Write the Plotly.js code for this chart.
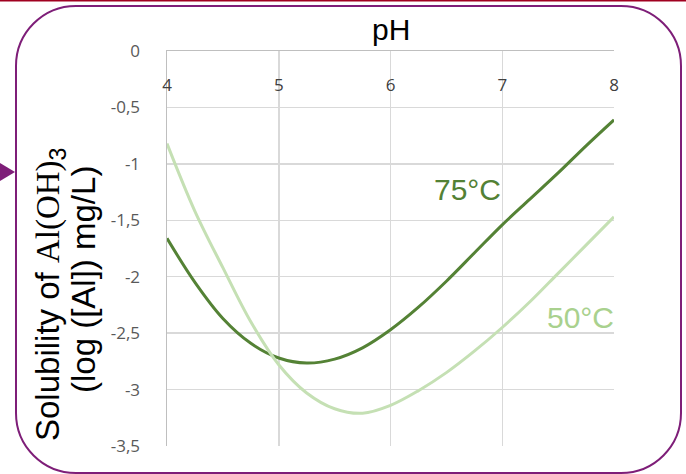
<!DOCTYPE html>
<html>
<head>
<meta charset="utf-8">
<script src="https://cdn.plot.ly/plotly-3.0.1.min.js"></script>
<style>
  html, body { margin: 0; padding: 0; background: #ffffff; }
  #chart { width: 686px; height: 474px; }
</style>
</head>
<body>
<div id="chart"></div>
<script>
// ---- data ----
const pH = [4.0, 4.25, 4.5, 4.75, 5.0, 5.25, 5.5, 5.75, 6.0, 6.25, 6.5, 6.75, 7.0, 7.25, 7.5, 7.75, 8.0];
const sol75 = [-1.66, -2.05, -2.37, -2.59, -2.72, -2.765, -2.73, -2.63, -2.47, -2.27, -2.04, -1.79, -1.54, -1.31, -1.08, -0.84, -0.61];
const sol50 = [-0.82, -1.42, -1.92, -2.40, -2.78, -3.03, -3.17, -3.21, -3.14, -3.01, -2.85, -2.66, -2.45, -2.22, -1.97, -1.72, -1.47];
const seriesNames = ['75°C', '50°C'];
const xTicks = [4, 5, 6, 7, 8];
const xTickLabels = ['4', '5', '6', '7', '8'];
const yTicks = [0, -0.5, -1, -1.5, -2, -2.5, -3, -3.5];
const yTickLabels = ['0', '-0,5', '-1', '-1,5', '-2', '-2,5', '-3', '-3,5'];
const xTitle = 'pH';
const yTitleLine1 = 'Solubility of <span style="font-family:\'Liberation Serif\', serif">Al(OH)</span><sub>3</sub>';
const yTitleLine2 = '(log ([Al]) mg/L)';

// ---- layout helpers (pixel -> paper) ----
const W = 686, H = 474;
const M = { l: 167, r: 72, t: 51, b: 28 };
const PW = W - M.l - M.r, PH = H - M.t - M.b;
const px = x => (x - M.l) / PW;
const py = y => (H - M.b - y) / PH;
function P(x, y) { return px(x).toFixed(5) + ',' + py(y).toFixed(5); }

function roundRect(x0, y0, x1, y1, r) {
  const k = 0.5523 * r;
  return 'M' + P(x0 + r, y0) +
    ' L' + P(x1 - r, y0) +
    ' C' + P(x1 - r + k, y0) + ' ' + P(x1, y0 + r - k) + ' ' + P(x1, y0 + r) +
    ' L' + P(x1, y1 - r) +
    ' C' + P(x1, y1 - r + k) + ' ' + P(x1 - r + k, y1) + ' ' + P(x1 - r, y1) +
    ' L' + P(x0 + r, y1) +
    ' C' + P(x0 + r - k, y1) + ' ' + P(x0, y1 - r + k) + ' ' + P(x0, y1 - r) +
    ' L' + P(x0, y0 + r) +
    ' C' + P(x0, y0 + r - k) + ' ' + P(x0 + r - k, y0) + ' ' + P(x0 + r, y0) + ' Z';
}

const traces = [
  { x: pH, y: sol75, name: seriesNames[0], type: 'scatter', mode: 'lines',
    line: { color: '#548235', width: 3, shape: 'spline', smoothing: 1 } },
  { x: pH, y: sol50, name: seriesNames[1], type: 'scatter', mode: 'lines',
    line: { color: '#c5e0b4', width: 3, shape: 'spline', smoothing: 1 } }
];

const layout = {
  width: W, height: H,
  margin: M,
  paper_bgcolor: '#ffffff',
  plot_bgcolor: '#ffffff',
  showlegend: false,
  font: { family: 'Liberation Sans, Arial, sans-serif', color: '#000000' },
  xaxis: {
    range: [4, 8], side: 'top',
    tickvals: xTicks, ticktext: xTickLabels,
    ticks: 'inside', ticklen: 6, tickcolor: 'rgba(0,0,0,0)',
    ticklabelposition: 'inside', ticklabelstandoff: 23,
    ticklabeloverflow: 'allow',
    tickfont: { family: 'Open Sans, sans-serif', size: 17, color: '#404040' },
    showgrid: true, gridcolor: '#d9d9d9', gridwidth: 1.5,
    showline: true, linecolor: '#bfbfbf', linewidth: 1.5,
    zeroline: false, fixedrange: true
  },
  yaxis: {
    range: [-3.5, 0],
    tickvals: yTicks, ticktext: yTickLabels,
    ticks: '', ticklabelstandoff: 22,
    ticklabeloverflow: 'allow',
    tickfont: { family: 'Open Sans, sans-serif', size: 17, color: '#595959' },
    showgrid: true, gridcolor: '#d9d9d9', gridwidth: 1.5,
    showline: true, linecolor: '#bfbfbf', linewidth: 1.5,
    zeroline: false, fixedrange: true
  },
  shapes: [
    { type: 'path', xref: 'paper', yref: 'paper', layer: 'above',
      path: roundRect(16, 6, 681, 473, 60),
      line: { color: '#7e1e78', width: 2 }, fillcolor: 'rgba(0,0,0,0)' },
    { type: 'path', xref: 'paper', yref: 'paper',
      path: 'M' + P(0, 163) + ' L' + P(15, 172) + ' L' + P(0, 181) + ' Z',
      line: { color: '#7e1e78', width: 0 }, fillcolor: '#7e1e78' },
    { type: 'line', xref: 'paper', yref: 'paper',
      x0: px(0), x1: px(686), y0: py(0.5), y1: py(0.5),
      line: { color: '#a00020', width: 2 } }
  ],
  annotations: [
    { text: xTitle, xref: 'paper', yref: 'paper', x: px(391), y: py(30),
      xanchor: 'center', yanchor: 'middle', showarrow: false,
      font: { family: 'Liberation Sans, Arial, sans-serif', size: 30, color: '#000000' } },
    { text: yTitleLine1, xref: 'paper', yref: 'paper', x: px(50), y: py(295),
      xanchor: 'center', yanchor: 'middle', textangle: -90, showarrow: false,
      font: { family: 'Liberation Sans, Arial, sans-serif', size: 33, color: '#000000' } },
    { text: yTitleLine2, xref: 'paper', yref: 'paper', x: px(83), y: py(280),
      xanchor: 'center', yanchor: 'middle', textangle: -90, showarrow: false,
      font: { family: 'Liberation Sans, Arial, sans-serif', size: 33, color: '#000000' } },
    { text: seriesNames[0], xref: 'paper', yref: 'paper', x: px(467), y: py(189),
      xanchor: 'center', yanchor: 'middle', showarrow: false,
      font: { family: 'Liberation Sans, Arial, sans-serif', size: 30, color: '#538135' } },
    { text: seriesNames[1], xref: 'paper', yref: 'paper', x: px(616), y: py(317),
      xanchor: 'right', yanchor: 'middle', showarrow: false,
      font: { family: 'Liberation Sans, Arial, sans-serif', size: 30, color: '#a9d18e' } }
  ]
};

Plotly.newPlot('chart', traces, layout, { staticPlot: true, displayModeBar: false });
</script>
</body>
</html>
